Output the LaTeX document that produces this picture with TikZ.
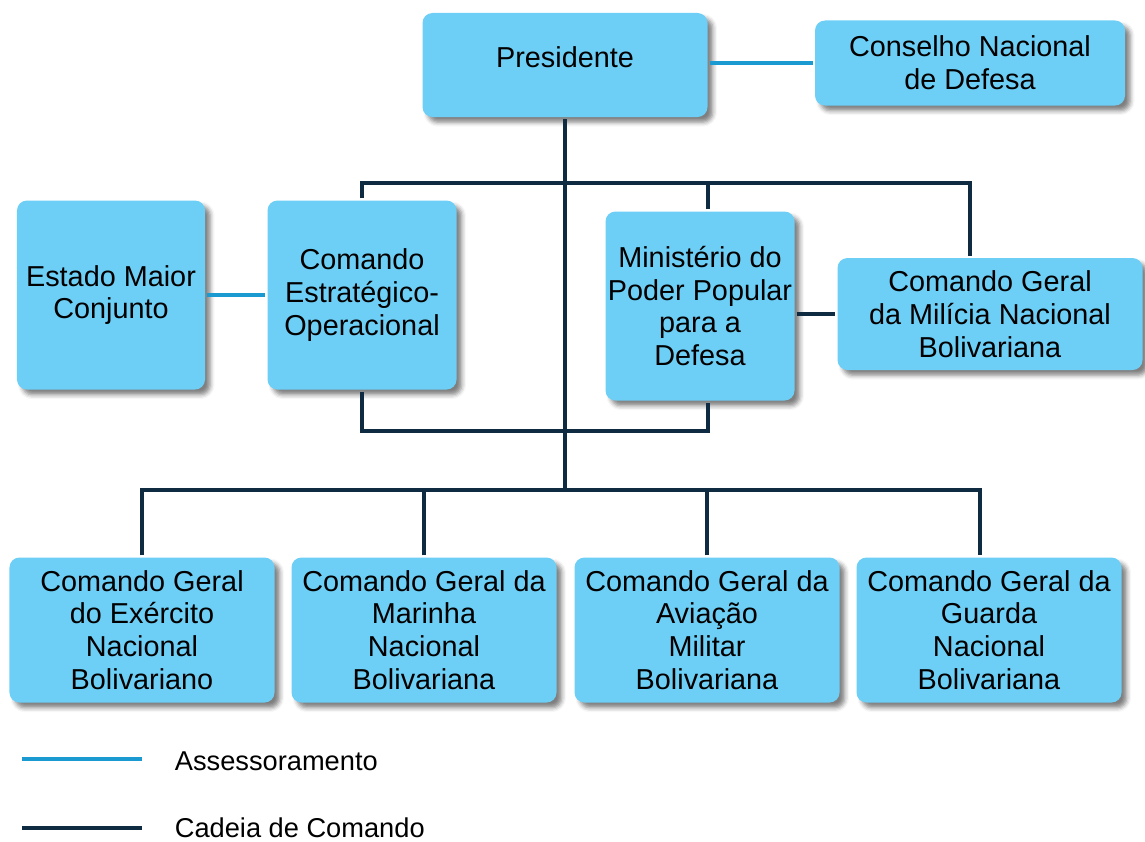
\documentclass[tikz,border=0pt]{standalone}
\usepackage{fontspec}
\setmainfont{Liberation Sans}
\usetikzlibrary{shadows.blur,calc}
\definecolor{caixa}{HTML}{6DCFF6}
\definecolor{assess}{HTML}{1A9AD0}
\definecolor{cadeia}{HTML}{0E2B42}

\begin{document}
\begin{tikzpicture}[x=0.2mm,y=-0.2mm,line width=2.3pt]
  \tikzstyle{box}=[fill=caixa,rounded corners=2mm,align=center,inner sep=0pt,
                   blur shadow={shadow xshift=3pt,shadow yshift=-3pt,
                                shadow blur radius=2.5pt,shadow opacity=50},
                   font=\fontsize{16.4}{18.7}\selectfont]
  \tikzstyle{comando}=[draw=cadeia]
  \tikzstyle{assessoria}=[draw=assess]
  \tikzstyle{legenda}=[anchor=west,font=\fontsize{15.5}{18}\selectfont]

  \useasboundingbox (0,0) rectangle (1145,841);

  \node[box,minimum width=57mm,minimum height=20.8mm,text depth=3mm] (pres) at (565,65)  {Presidente};
  \node[box,minimum width=62mm,minimum height=17mm]   (cnd)  at (970,63)  {Conselho Nacional\\de Defesa};
  \node[box,minimum width=37.6mm,minimum height=37.8mm] (est) at (111,295) {Estado Maior\\Conjunto};
  \node[box,minimum width=37.8mm,minimum height=37.8mm] (ceo) at (362,295) {Comando\\Estratégico-\\Operacional};
  \node[box,minimum width=37.8mm,minimum height=37.8mm] (mpp) at (700,306) {Ministério do\\Poder Popular\\para a\\Defesa};
  \node[box,minimum width=61mm,minimum height=22.4mm]   (mil) at (990,314) {Comando Geral\\da Milícia Nacional\\Bolivariana};

  \node[box,minimum width=53mm,minimum height=29mm] (b1) at (142,630) {Comando Geral\\do Exército\\Nacional\\Bolivariano};
  \node[box,minimum width=53mm,minimum height=29mm] (b2) at (424,630) {Comando Geral da\\Marinha\\Nacional\\Bolivariana};
  \node[box,minimum width=53mm,minimum height=29mm] (b3) at (707,630) {Comando Geral da\\Aviação\\Militar\\Bolivariana};
  \node[box,minimum width=53mm,minimum height=29mm] (b4) at (989,630) {Comando Geral da\\Guarda\\Nacional\\Bolivariana};

  \coordinate (barra)  at (565,183);
  \coordinate (tronco) at (565,490);
  \coordinate (mppN) at ($(mpp.north)+(8,0)$);
  \coordinate (mppS) at ($(mpp.south)+(8,0)$);
  \coordinate (milN) at ($(mil.north)+(-20,0)$);
  \coordinate (b4N)  at ($(b4.north)+(-9,0)$);

  \draw[comando] (pres.south) -- (tronco);
  \draw[comando] (ceo.north) |- (barra) -| (milN);
  \draw[comando] (mppN) -- (mppN |- barra);
  \draw[comando] (ceo.south) -- ++(0,39) -| (mppS);
  \draw[comando] (mpp.east |- mil.west) -- (mil.west);
  \draw[comando] (b1.north) |- (tronco) -| (b4N);
  \draw[comando] (b2.north) -- (b2.north |- tronco);
  \draw[comando] (b3.north) -- (b3.north |- tronco);

  \draw[assessoria] (pres.east |- cnd.west) -- (cnd.west);
  \draw[assessoria] (est.east) -- (ceo.west);

  \coordinate (la1) at (22,759);  \coordinate (lb1) at (142,759);
  \coordinate (la2) at (22,828);  \coordinate (lb2) at (142,828);
  \draw[assessoria,line width=2.8pt] (la1) -- (lb1);
  \draw[comando,line width=2.8pt] (la2) -- (lb2);
  \node[legenda] (leg1) at (167,761) {Assessoramento};
  \node[legenda] (leg2) at (167,828) {Cadeia de Comando};
\end{tikzpicture}
\end{document}
